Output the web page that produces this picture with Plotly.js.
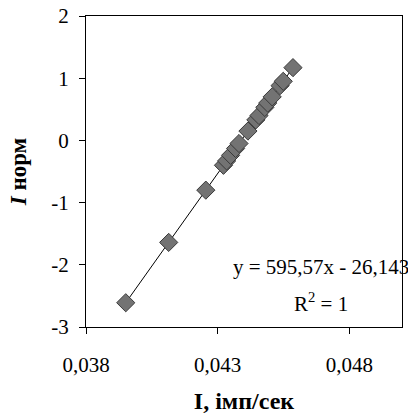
<!DOCTYPE html>
<html><head><meta charset="utf-8">
<script src="https://cdn.plot.ly/plotly-3.0.1.min.js"></script>
<style>html,body{margin:0;padding:0;background:#fff;}</style>
</head><body><div id="chart" style="width:408px;height:414px;"></div>
<script>
var pointsX = [0.03951, 0.04114, 0.04255, 0.04322, 0.04334, 0.04349, 0.04368, 0.04381, 0.04415, 0.04445, 0.04457, 0.04479, 0.04490, 0.04507, 0.04537, 0.04549, 0.04586];
var pointsY = [-2.61, -1.64, -0.80, -0.40, -0.33, -0.24, -0.13, -0.05, 0.15, 0.33, 0.40, 0.53, 0.60, 0.70, 0.88, 0.95, 1.17];
var trendX = [0.03951, 0.04586];
var trendY = [-2.61, 1.17];
var xTickVals = [0.038, 0.043, 0.048];
var xTickText = ['0,038', '0,043', '0,048'];
var yTickVals = [-3, -2, -1, 0, 1, 2];
var yTickText = ['-3', '-2', '-1', '0', '1', '2'];
var eqText = 'y = 595,57x - 26,143';
var r2Text = 'R<sup>2</sup> = 1';

var serif = 'Liberation Serif';
var data = [
  {x: trendX, y: trendY, mode: 'lines', type: 'scatter', line: {color: '#000', width: 1}, hoverinfo: 'skip'},
  {x: pointsX, y: pointsY, mode: 'markers', type: 'scatter',
   marker: {symbol: 'diamond', size: 14, color: '#737373', line: {color: '#3a3a3a', width: 1}}}
];
var layout = {
  width: 408, height: 414,
  margin: {l: 86, r: 6, t: 16, b: 87},
  paper_bgcolor: '#fff', plot_bgcolor: '#fff',
  showlegend: false,
  font: {family: serif, size: 21, color: '#000'},
  xaxis: {
    range: [0.038, 0.050], tickvals: xTickVals, ticktext: xTickText,
    ticks: 'outside', ticklen: 6, tickcolor: '#000', showgrid: false, zeroline: false,
    showline: true, linecolor: '#000', linewidth: 1, mirror: true,
    ticklabelstandoff: 13, tickfont: {family: serif, size: 21},
    title: {text: '<b>I, імп/сек</b>', font: {family: serif, size: 24}, standoff: 24}
  },
  yaxis: {
    range: [-3, 2], tickvals: yTickVals, ticktext: yTickText,
    ticks: 'outside', ticklen: 6, tickcolor: '#000', showgrid: false, zeroline: false,
    showline: true, linecolor: '#000', linewidth: 1, mirror: true,
    ticklabelstandoff: 6, tickfont: {family: serif, size: 21},
    title: {text: '<b><i>I</i> норм</b>', font: {family: serif, size: 23}, standoff: 18}
  },
  annotations: [
    {xref: 'paper', yref: 'y', x: 0.46, y: -2.03, xanchor: 'left', yanchor: 'middle', showarrow: false,
     text: eqText, font: {family: serif, size: 21, color: '#000'}},
    {xref: 'paper', yref: 'y', x: 0.745, y: -2.6, xanchor: 'center', yanchor: 'middle', showarrow: false,
     text: r2Text, font: {family: serif, size: 21, color: '#000'}}
  ]
};
Plotly.newPlot('chart', data, layout, {displayModeBar: false, staticPlot: true});
</script></body></html>
